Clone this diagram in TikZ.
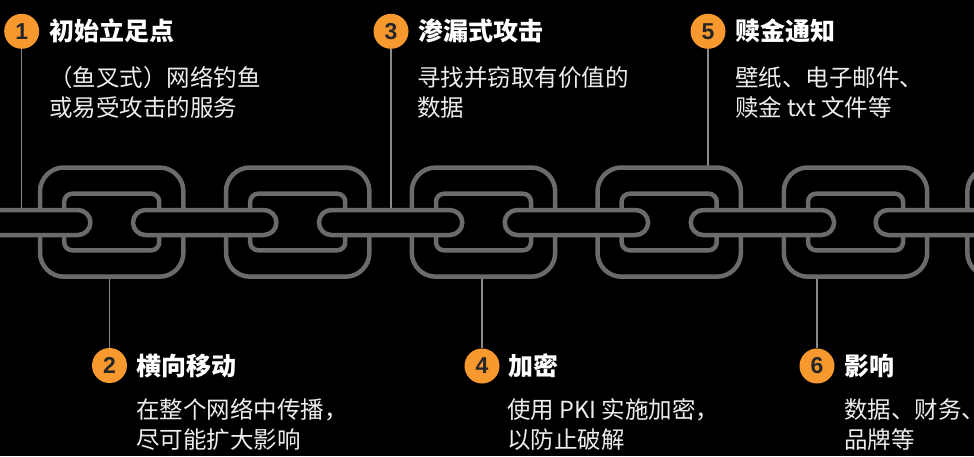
\documentclass[tikz,border=0pt]{standalone}
\usepackage{fontspec}
\newfontfamily\cjk{Noto Sans CJK SC}
\newfontfamily\numfont{Liberation Sans}
\definecolor{chaingray}{HTML}{6B6B6B}
\definecolor{wire}{HTML}{8A8A8A}
\definecolor{badgeorange}{HTML}{F7992F}
\definecolor{badgeink}{HTML}{262626}
\definecolor{bodytext}{HTML}{EDEDED}
\begin{document}
\begin{tikzpicture}[x=1pt,y=-1pt,
  linkring/.style={draw=chaingray, line width=4.5pt},
  bar/.style={draw=chaingray, fill=black, line width=4.5pt, rounded corners=12.5pt},
  wireline/.style={draw=wire, line width=1.5pt},
  badge/.style={circle, fill=badgeorange, minimum size=35pt, inner sep=0pt,
    text=badgeink, font=\numfont\bfseries\fontsize{23}{23}\selectfont},
  heading/.style={anchor=base west, inner sep=0pt, text=white,
    font=\cjk\bfseries\fontsize{25}{30}\selectfont},
  detail/.style={anchor=base west, inner sep=0pt, text=bodytext,
    font=\cjk\fontsize{23.5}{30}\selectfont},
]
% canvas
\fill[black] (0,0) rectangle (974,456);
\useasboundingbox (0,0) rectangle (974,456);

% numbered badges
\node[badge] (n1) at (21.7,31.3) {1};
\node[badge] (n2) at (109.5,365.5) {2};
\node[badge] (n3) at (391,31.3) {3};
\node[badge] (n4) at (482,366) {4};
\node[badge] (n5) at (708,31.3) {5};
\node[badge] (n6) at (817,366) {6};

% headings and descriptions
\node[heading] (h1) at (49,40.8) {初始立足点};
\node[detail] (d1a) at (49,86) {（鱼叉式）网络钓鱼};
\node[detail] (d1b) at (49,116) {或易受攻击的服务};

\node[heading] (h3) at (418,40.8) {渗漏式攻击};
\node[detail] (d3a) at (417,86) {寻找并窃取有价值的};
\node[detail] (d3b) at (417,116) {数据};

\node[heading] (h5) at (735,40.8) {赎金通知};
\node[detail] (d5a) at (735,86) {壁纸、电子邮件、};
\node[detail] (d5b) at (735,116) {赎金 txt 文件等};

\node[heading] (h2) at (136,375.5) {横向移动};
\node[detail] (d2a) at (136,418) {在整个网络中传播，};
\node[detail] (d2b) at (136,448) {尽可能扩大影响};

\node[heading] (h4) at (508,375.5) {加密};
\node[detail] (d4a) at (507,418) {使用 PKI 实施加密，};
\node[detail] (d4b) at (507,448) {以防止破解};

\node[heading] (h6) at (844,375.5) {影响};
\node[detail] (d6a) at (844,418) {数据、财务、};
\node[detail] (d6b) at (844,448) {品牌等};

% points where the leader lines meet the chain
\coordinate (a1) at (21.7,210);
\coordinate (a2) at (109.5,276.7);
\coordinate (a3) at (391,210);
\coordinate (a4) at (482,276.7);
\coordinate (a5) at (708,167.5);
\coordinate (a6) at (817,276.7);

% leader lines (the chain is drawn over their ends)
\draw[wireline] (n1) -- (a1);
\draw[wireline] (n2) -- (a2);
\draw[wireline] (n3) -- (a3);
\draw[wireline] (n4) -- (a4);
\draw[wireline] (n5) -- (a5);
\draw[wireline] (n6) -- (a6);

% large links: outer and inner outline
\foreach \cx in {-74.3,111.7,297.7,483.5,669.2,855.5,1039} {
  \draw[linkring, rounded corners=24pt] (\cx-71.7,167.5) rectangle (\cx+71.7,276.7);
  \draw[linkring, rounded corners=8pt] (\cx-47.5,193.7) rectangle (\cx+47.5,250.3);
}
% flat links threaded through the large ones
\foreach \mx in {18.7,204.7,390.6,576.4,762.4,947.3} {
  \draw[bar] (\mx-71.7,210) rectangle (\mx+71.7,235);
}
\end{tikzpicture}
\end{document}
